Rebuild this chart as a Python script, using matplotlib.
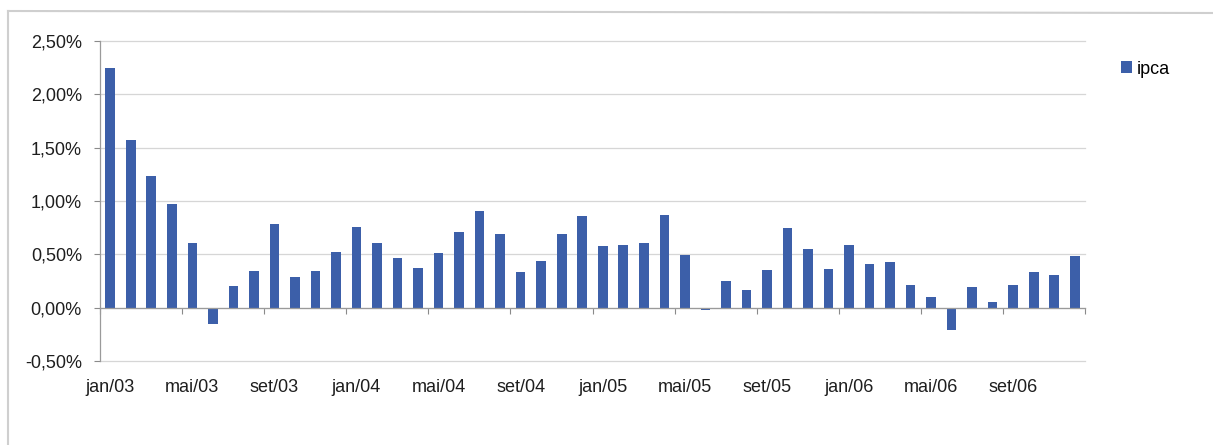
import numpy as np
import matplotlib
matplotlib.use('Agg')
import matplotlib.pyplot as plt
from matplotlib.lines import Line2D
from matplotlib.ticker import FuncFormatter

plt.rcParams['font.family'] = ['Liberation Sans', 'DejaVu Sans']

meses = ['jan', 'fev', 'mar', 'abr', 'mai', 'jun', 'jul', 'ago', 'set', 'out', 'nov', 'dez']
anos = ['03', '04', '05', '06']
categorias = [m + '/' + a for a in anos for m in meses]

# ipca mensal (%), jan/03 .. dez/06
ipca = [2.25, 1.57, 1.23, 0.97, 0.61, -0.15, 0.20, 0.34, 0.78, 0.29, 0.34, 0.52,
        0.76, 0.61, 0.47, 0.37, 0.51, 0.71, 0.91, 0.69, 0.33, 0.44, 0.69, 0.86,
        0.58, 0.59, 0.61, 0.87, 0.49, -0.02, 0.25, 0.17, 0.35, 0.75, 0.55, 0.36,
        0.59, 0.41, 0.43, 0.21, 0.10, -0.21, 0.19, 0.05, 0.21, 0.33, 0.31, 0.48]

y_ticks = [-0.5, 0.0, 0.5, 1.0, 1.5, 2.0, 2.5]

W, H = 1213, 445
fig = plt.figure(figsize=(W / 100, H / 100), dpi=100)
ax = fig.add_axes([100 / W, 1 - 361 / H, 985 / W, 320 / H])

x = np.arange(len(ipca))
ax.bar(x, ipca, width=0.47, color='#3C5FA9', label='ipca', zorder=3)

ax.set_xlim(-0.5, len(ipca) - 0.5)
ax.set_ylim(-0.5, 2.5)

ax.set_yticks(y_ticks)
ax.yaxis.set_major_formatter(FuncFormatter(lambda v, p: ('%.2f%%' % v).replace('.', ',')))
ax.tick_params(axis='y', direction='out', length=4, width=0.8, color='#8a8a8a',
               pad=9, labelsize=13, labelcolor='#1e1e1e')
ax.yaxis.grid(True, color='#d6d6d6', linewidth=0.9, zorder=0)
for gl in ax.get_ygridlines():
    gl.set_clip_on(False)

for s in ['top', 'right']:
    ax.spines[s].set_visible(False)
ax.spines['left'].set_color('#9a9a9a')
ax.spines['left'].set_linewidth(0.9)
ax.spines['bottom'].set_position(('data', 0))
ax.spines['bottom'].set_color('#9a9a9a')
ax.spines['bottom'].set_linewidth(0.9)
ax.spines['bottom'].set_zorder(4)

# tick marks between categories, every 4 months
ax.set_xticks(np.arange(-0.5, len(ipca), 4))
ax.tick_params(axis='x', direction='out', length=4, width=0.8, color='#8a8a8a', labelbottom=False)

# labels at the bottom of the plot area
sec = ax.secondary_xaxis(0)
sec.set_xticks(x[::4])
sec.set_xticklabels(categorias[::4])
sec.tick_params(axis='x', length=0, pad=13, labelsize=13, labelcolor='#1e1e1e')
sec.spines['bottom'].set_visible(False)

ax.legend(loc='center left', bbox_to_anchor=(1121 / W, 1 - 69 / H), bbox_transform=fig.transFigure,
          frameon=False, fontsize=13, handlelength=0.6, handleheight=0.6,
          handletextpad=0.3, borderpad=0, borderaxespad=0)

# chart area border (left and top edges visible)
fig.add_artist(Line2D([8 / W, 8 / W], [0, 1 - 11 / H], transform=fig.transFigure,
                      color='#cfcfcf', linewidth=1.5))
fig.add_artist(Line2D([8 / W, 1], [1 - 11 / H, 1 - 13 / H], transform=fig.transFigure,
                      color='#cfcfcf', linewidth=1.5))

fig.savefig('out.png', dpi=100, facecolor='white')
